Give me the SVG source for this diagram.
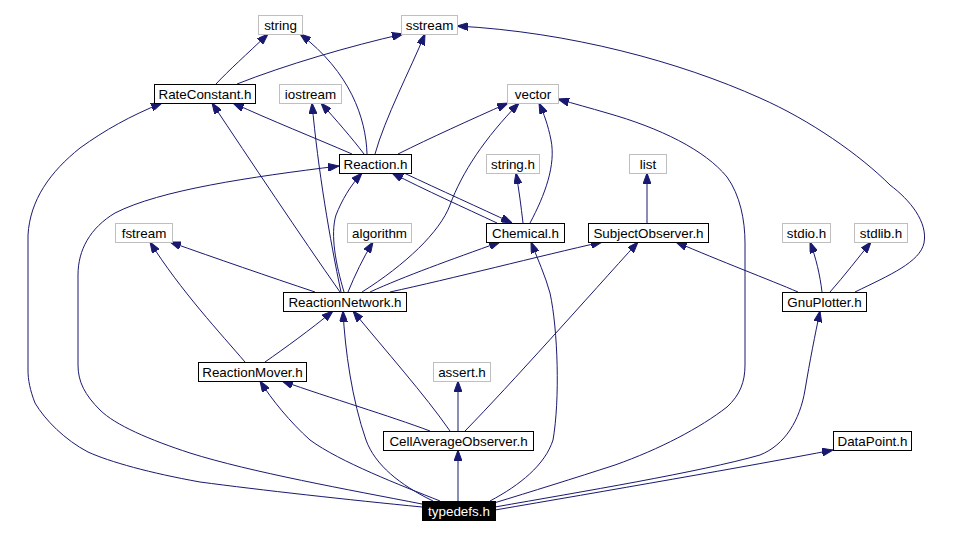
<svg xmlns="http://www.w3.org/2000/svg" width="972" height="534" viewBox="0 0 972 534">
<defs>
<style>
.n rect{fill:#fff;stroke:#000;stroke-width:1}
.g rect{fill:#fff;stroke:#bfbfbf;stroke-width:1}
.r rect{fill:#000;stroke:#000;stroke-width:1}
text{font-family:"Liberation Sans",Arial,Helvetica,sans-serif;font-size:13.4px;text-anchor:middle;fill:#000}
.r text{fill:#fff}
#edges path{fill:none;stroke:#191970;stroke-width:1;marker-end:url(#arr)}
</style>
<marker id="arr" viewBox="0 0 11 8" refX="11" refY="4" markerWidth="11" markerHeight="8" markerUnits="userSpaceOnUse" orient="auto">
<path d="M0,0 L11,4 L0,8 z" fill="#191970" stroke="#191970" stroke-width="1"/>
</marker>
</defs>
<rect width="972" height="534" fill="#fff"/>
<g id="edges">
<path d="M216,84 C228,71 247,54 268,34"/>
<path d="M237,84 C285,65 350,46 403,34"/>
<path d="M367,154 C366,118 350,72 300,34"/>
<path d="M375,154 C385,118 410,70 425,34"/>
<path d="M364,154 C352,138 336,120 321,103"/>
<path d="M352,154 C315,138 270,120 233,103"/>
<path d="M398,154 C430,138 470,120 508,103"/>
<path d="M340,292 C300,235 250,160 212,103"/>
<path d="M341,292 C330,240 318,170 312,103"/>
<path d="M344,292 C336,265 330,235 336,215 C342,200 350,186 362,173"/>
<path d="M348,292 C355,275 363,258 373,242"/>
<path d="M315,292 C270,277 215,258 170,242"/>
<path d="M362,292 C405,265 440,232 450,205 C462,172 485,138 519,103"/>
<path d="M370,292 C405,276 450,260 500,242"/>
<path d="M390,292 C450,279 540,256 602,242"/>
<path d="M404,173 C440,190 480,208 512,223"/>
<path d="M497,223 C465,208 425,190 392,173"/>
<path d="M530,223 C545,195 556,165 551,140 C548,125 544,114 539,103"/>
<path d="M523,223 C521,206 519,190 516,173"/>
<path d="M647,223 L647,173"/>
<path d="M798,292 C770,280 720,261 676,242"/>
<path d="M822,292 C820,275 816,258 810,242"/>
<path d="M830,292 C845,275 858,258 871,242"/>
<path d="M855,292 C890,275 920,262 924,243 C928,222 910,200 890,185 C860,155 810,120 760,98 C680,62 570,32 457,26"/>
<path d="M245,362 C222,335 180,290 150,242"/>
<path d="M265,362 C285,348 310,330 333,311"/>
<path d="M430,431 C390,416 330,398 282,381"/>
<path d="M450,431 C425,395 385,350 353,311"/>
<path d="M458,431 L458,381"/>
<path d="M465,431 C510,385 590,295 638,242"/>
<path d="M458,501 L458,450"/>
<path d="M440,501 C400,485 340,462 310,440 C290,422 272,400 260,381"/>
<path d="M433,501 C400,485 375,465 366,440 C352,400 345,350 343,311"/>
<path d="M422,504 C350,490 250,472 190,453 C150,440 115,425 100,410 C85,395 78,382 78,365 L78,275 C78,250 90,228 115,213 C160,190 250,177 339,166"/>
<path d="M422,507 C350,500 260,490 200,482 C150,473 110,462 88,452 C65,440 45,420 35,403 C30,390 28,380 28,370 L28,235 C30,200 50,172 80,148 C105,130 130,116 162,103"/>
<path d="M490,501 C520,485 545,465 553,440 C560,400 558,330 550,293 C545,275 538,260 531,242"/>
<path d="M494,503 C530,492 575,478 615,465 C660,449 700,428 727,407 C740,395 745,382 745,365 L745,243 C745,220 740,195 727,177 C705,150 660,128 607,113 C590,108 575,104 558,99"/>
<path d="M495,507 C580,492 700,472 760,455 C785,445 800,420 805,390 C810,360 815,335 820,311"/>
<path d="M495,510 C600,492 750,466 833,450"/>
</g>
<g id="string" class="g"><rect x="258.5" y="15.5" width="44" height="19"/><text x="280.5" y="29.5">string</text></g>
<g id="sstream" class="g"><rect x="401.5" y="15.5" width="56" height="19"/><text x="429.5" y="29.5">sstream</text></g>
<g id="RateConstant" class="n"><rect x="154.5" y="84.5" width="101" height="19"/><text x="205" y="98.5">RateConstant.h</text></g>
<g id="iostream" class="g"><rect x="279.5" y="84.5" width="62" height="19"/><text x="310.5" y="98.5">iostream</text></g>
<g id="vector" class="g"><rect x="507.5" y="84.5" width="51" height="19"/><text x="533" y="98.5">vector</text></g>
<g id="Reaction" class="n"><rect x="339.5" y="154.5" width="72" height="19"/><text x="375.5" y="168.5">Reaction.h</text></g>
<g id="string_h" class="g"><rect x="486.5" y="154.5" width="53" height="19"/><text x="513" y="168.5">string.h</text></g>
<g id="list" class="g"><rect x="629.5" y="154.5" width="37" height="19"/><text x="648" y="168.5">list</text></g>
<g id="fstream" class="g"><rect x="115.5" y="223.5" width="57" height="19"/><text x="144" y="237.5">fstream</text></g>
<g id="algorithm" class="g"><rect x="347.5" y="223.5" width="64" height="19"/><text x="379.5" y="237.5">algorithm</text></g>
<g id="Chemical" class="n"><rect x="486.5" y="223.5" width="78" height="19"/><text x="525.5" y="237.5">Chemical.h</text></g>
<g id="SubjectObserver" class="n"><rect x="588.5" y="223.5" width="120" height="19"/><text x="648.5" y="237.5">SubjectObserver.h</text></g>
<g id="stdio" class="g"><rect x="782.5" y="223.5" width="48" height="19"/><text x="806.5" y="237.5">stdio.h</text></g>
<g id="stdlib" class="g"><rect x="854.5" y="223.5" width="53" height="19"/><text x="881" y="237.5">stdlib.h</text></g>
<g id="ReactionNetwork" class="n"><rect x="283.5" y="292.5" width="123" height="19"/><text x="345" y="306.5">ReactionNetwork.h</text></g>
<g id="GnuPlotter" class="n"><rect x="782.5" y="292.5" width="84" height="19"/><text x="824.5" y="306.5">GnuPlotter.h</text></g>
<g id="ReactionMover" class="n"><rect x="198.5" y="362.5" width="108" height="19"/><text x="252.5" y="376.5">ReactionMover.h</text></g>
<g id="assert" class="g"><rect x="433.5" y="362.5" width="57" height="19"/><text x="462" y="376.5">assert.h</text></g>
<g id="CellAverageObserver" class="n"><rect x="383.5" y="431.5" width="150" height="19"/><text x="458.5" y="445.5">CellAverageObserver.h</text></g>
<g id="DataPoint" class="n"><rect x="833.5" y="431.5" width="78" height="19"/><text x="872.5" y="445.5">DataPoint.h</text></g>
<g id="typedefs" class="r"><rect x="422.5" y="501.5" width="73" height="19"/><text x="459" y="515.5">typedefs.h</text></g>
</svg>
